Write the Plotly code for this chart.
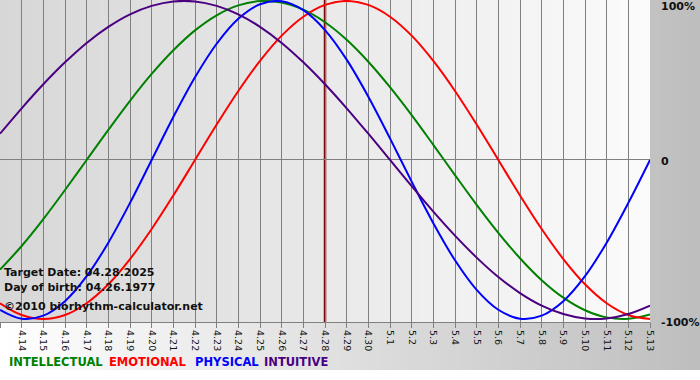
import plotly.graph_objects as go

days = ["4.13", "4.14", "4.15", "4.16", "4.17", "4.18", "4.19", "4.20", "4.21", "4.22",
        "4.23", "4.24", "4.25", "4.26", "4.27", "4.28", "4.29", "4.30", "5.1", "5.2",
        "5.3", "5.4", "5.5", "5.6", "5.7", "5.8", "5.9", "5.10", "5.11", "5.12", "5.13"]

intellectual = [-0.690, -0.541, -0.372, -0.189, 0.000, 0.189, 0.372, 0.541, 0.690, 0.815,
                0.910, 0.972, 0.999, 0.990, 0.945, 0.866, 0.756, 0.618, 0.458, 0.282,
                0.095, -0.095, -0.282, -0.458, -0.618, -0.756, -0.866, -0.945, -0.990, -0.999, -0.972]
emotional = [-0.901, -0.975, -1.000, -0.975, -0.901, -0.782, -0.623, -0.434, -0.223, 0.000,
             0.223, 0.434, 0.623, 0.782, 0.901, 0.975, 1.000, 0.975, 0.901, 0.782,
             0.623, 0.434, 0.223, 0.000, -0.223, -0.434, -0.623, -0.782, -0.901, -0.975, -1.000]
physical = [-0.942, -0.998, -0.979, -0.888, -0.731, -0.520, -0.270, 0.000, 0.270, 0.520,
            0.731, 0.888, 0.979, 0.998, 0.942, 0.817, 0.631, 0.398, 0.136, -0.136,
            -0.398, -0.631, -0.817, -0.942, -0.998, -0.979, -0.888, -0.731, -0.520, -0.270, 0.000]
intuitive = [0.165, 0.325, 0.476, 0.614, 0.736, 0.837, 0.916, 0.969, 0.997, 0.997,
             0.969, 0.916, 0.837, 0.736, 0.614, 0.476, 0.325, 0.165, 0.000, -0.165,
             -0.325, -0.476, -0.614, -0.736, -0.837, -0.916, -0.969, -0.997, -0.997, -0.969, -0.916]

series_names = ["INTELLECTUAL", "EMOTIONAL", "PHYSICAL", "INTUITIVE"]
series_values = [intellectual, emotional, physical, intuitive]
series_colors = ["#008000", "#ff0000", "#0000ff", "#4b0082"]

target_day = "4.28"
target_text = "Target Date: 04.28.2025"
birth_text = "Day of birth: 04.26.1977"
copyright_text = "©2010 biorhythm-calculator.net"
y_tick_text = ["100%", "0", "-100%"]

W, H = 700, 380
ML, MR, MT, MB = 0, 50, 0, 58
PW, PH = W - ML - MR, H - MT - MB

def px_x(p):
    return (p - ML) / PW

def px_y(p):
    return (H - MB - p) / PH

x_idx = list(range(len(days)))

fig = go.Figure()
for name, vals, col in zip(series_names, series_values, series_colors):
    fig.add_trace(go.Scatter(x=x_idx, y=vals, mode="lines", name=name,
                             line=dict(color=col, width=2, shape="spline", smoothing=1.0),
                             showlegend=False, hoverinfo="skip"))

shapes = []
# figure background gradient (white -> gray), above white bottom strip
n = 70
for i in range(n):
    x0 = i * W / n
    x1 = (i + 1) * W / n + 0.8
    c = int(round(255 - (255 - 190) * (i + 0.5) / n))
    shapes.append(dict(type="rect", xref="paper", yref="paper",
                       x0=px_x(x0), x1=px_x(x1), y0=px_y(370), y1=px_y(0),
                       fillcolor=f"rgb({c},{c},{c})", line=dict(width=0), layer="below"))
# plot area gradient
n2 = 65
for i in range(n2):
    x0 = i * PW / n2
    x1 = (i + 1) * PW / n2 + 0.8
    if x1 > PW:
        x1 = PW
    c = int(round(215 + (251 - 215) * (i + 0.5) / n2))
    shapes.append(dict(type="rect", xref="paper", yref="paper",
                       x0=px_x(x0), x1=px_x(x1), y0=0, y1=1,
                       fillcolor=f"rgb({c},{c},{c})", line=dict(width=0), layer="below"))
# target date marker
shapes.append(dict(type="line", xref="x", yref="paper",
                   x0=days.index(target_day), x1=days.index(target_day), y0=0, y1=1,
                   line=dict(color="#7a0c0c", width=2.5), layer="between"))

annotations = []
info_font = dict(family="DejaVu Sans", size=11, color="#111111")
for txt, yp in [(target_text, 272), (birth_text, 287), (copyright_text, 306)]:
    annotations.append(dict(text=f"<b>{txt}</b>", x=px_x(2), y=px_y(yp), xref="paper", yref="paper",
                            xanchor="left", yanchor="middle", showarrow=False, font=info_font))
legend_x = [7, 107, 193, 262]
for name, col, lx in zip(series_names, series_colors, legend_x):
    annotations.append(dict(text=f"<b>{name}</b>", x=px_x(lx), y=px_y(362), xref="paper", yref="paper",
                            xanchor="left", yanchor="middle", showarrow=False,
                            font=dict(family="DejaVu Sans", size=11.5, color=col)))
lab_y = [7, 162, 322]
for t, ly in zip(y_tick_text, lab_y):
    annotations.append(dict(text=f"<b>{t}</b>", x=px_x(659), y=px_y(ly), xref="paper", yref="paper",
                            xanchor="left", yanchor="middle", showarrow=False,
                            font=dict(family="DejaVu Sans", size=11, color="#111111")))

fig.update_layout(
    width=W, height=H,
    margin=dict(l=ML, r=MR, t=MT, b=MB, pad=0),
    paper_bgcolor="white",
    plot_bgcolor="rgba(0,0,0,0)",
    shapes=shapes,
    annotations=annotations,
    showlegend=False,
    xaxis=dict(range=[0, len(days) - 1], tickmode="array", tickvals=x_idx, ticktext=days,
               tickangle=90, tickfont=dict(family="DejaVu Sans", size=9.5, color="#111111"),
               showgrid=True, gridcolor="#808080", gridwidth=1.3,
               showline=True, linecolor="#808080", linewidth=1.3,
               ticks="outside", ticklen=5, tickcolor="#808080", tickwidth=1.3,
               zeroline=False, automargin=False, fixedrange=True),
    yaxis=dict(range=[-1.019, 1.006], tickmode="array", tickvals=[0], showticklabels=False,
               showgrid=True, gridcolor="#808080", gridwidth=1.3, zeroline=False,
               automargin=False, fixedrange=True),
)

fig.write_html("out.html", config={"displayModeBar": False},
               post_script="document.body.style.margin='0px';document.body.style.padding='0px';")
